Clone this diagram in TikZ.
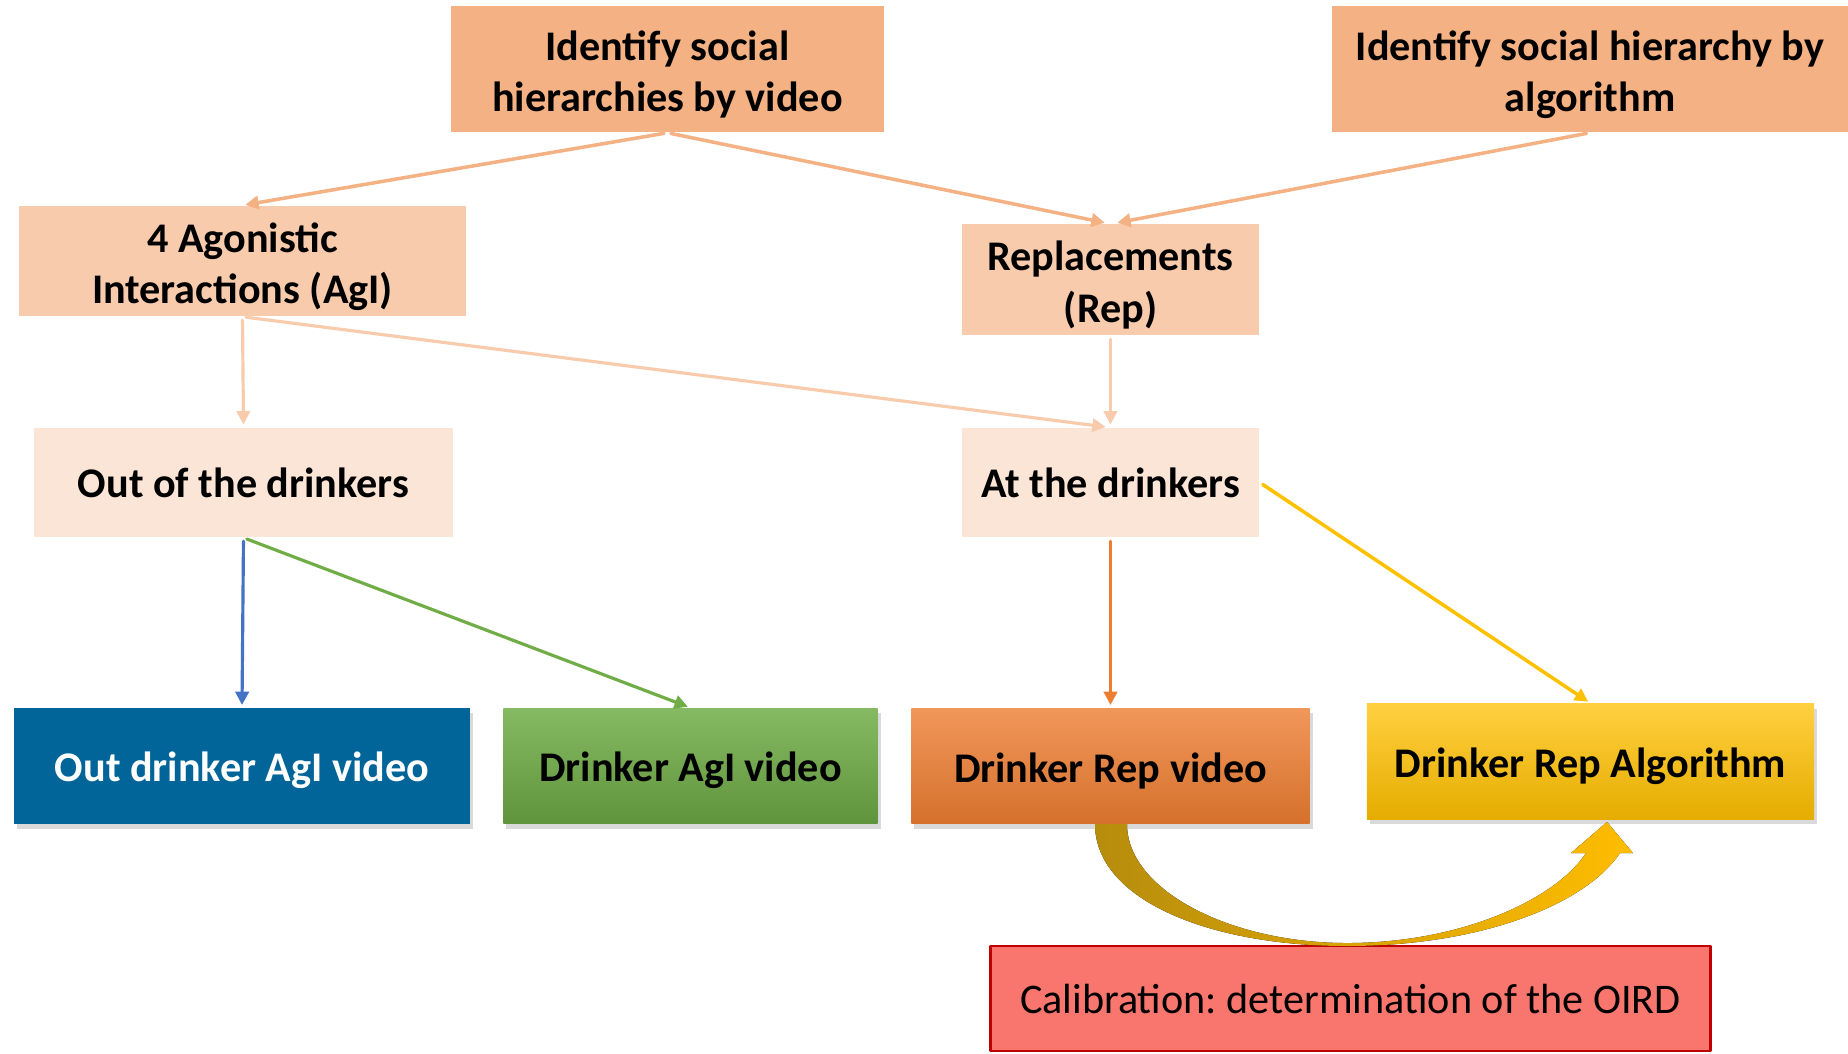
\documentclass[tikz,border=0pt]{standalone}
\usepackage{fontspec}
\setmainfont{Carlito}
\frenchspacing
\usetikzlibrary{arrows.meta,shadows}
\definecolor{topfill}{HTML}{F4B183}
\definecolor{midfill}{HTML}{F8CBAD}
\definecolor{lowfill}{HTML}{FBE5D6}
\definecolor{outblue}{HTML}{02659A}
\definecolor{arblue}{HTML}{4472C4}
\definecolor{argreen}{HTML}{70AD47}
\definecolor{arorange}{HTML}{ED7D31}
\definecolor{argold}{HTML}{FFC000}
\definecolor{calfill}{HTML}{F8766D}
\definecolor{calline}{HTML}{C00000}
\newcommand{\sinkline}{\rule{0pt}{11.6pt}}
\begin{document}
\begin{tikzpicture}[x=0.01cm,y=-0.01cm,line cap=round,line join=round,
    box/.style={rectangle,inner sep=0pt,align=center,
      font=\fontsize{12}{14.6}\selectfont\bfseries},
    sink/.style={execute at begin node={\rule{0pt}{#1}}},
    outbox/.style={box,sink=11pt,drop shadow={shadow xshift=0.03cm,shadow yshift=-0.05cm,opacity=0.3}},
    tip/.style={-{Triangle[length=3.8pt,width=3.8pt]},shorten <=1pt,shorten >=0.8pt}]
\useasboundingbox (0,0) rectangle (1848,1053);

\node[box,fill=topfill,minimum width=4.33cm,minimum height=1.26cm] (vid) at (667.5,69)
  {\sinkline Identify social\\hierarchies by video};
\node[box,fill=topfill,minimum width=5.16cm,minimum height=1.26cm] (alg) at (1590,69)
  {\sinkline Identify social hierarchy by\\algorithm};
\node[box,fill=midfill,minimum width=4.47cm,minimum height=1.10cm] (agi) at (242.5,261)
  {\sinkline 4 Agonistic\\Interactions (AgI)};
\node[box,fill=midfill,minimum width=2.97cm,minimum height=1.11cm] (rep) at (1110.5,279.5)
  {\sinkline Replacements\\(Rep)};
\node[box,fill=lowfill,minimum width=4.19cm,minimum height=1.09cm] (out) at (243.5,482.5)
  {Out of the drinkers};
\node[box,fill=lowfill,minimum width=2.97cm,minimum height=1.09cm] (at) at (1110.5,482.5)
  {At the drinkers};

\node[outbox,fill=outblue,text=white,minimum width=4.56cm,minimum height=1.15cm] (oav) at (242,766)
  {Out drinker AgI video};
\node[outbox,top color=argreen!85!white,bottom color=argreen!85!black,minimum width=3.74cm,minimum height=1.15cm] (dav) at (690.5,766)
  {Drinker AgI video};
\node[outbox,top color=arorange!80!white,bottom color=arorange!90!black,minimum width=3.98cm,minimum height=1.15cm] (drv) at (1110.5,766)
  {Drinker Rep video};
\node[outbox,top color=argold!75!white,bottom color=argold!90!black,minimum width=4.47cm,minimum height=1.15cm] (dra) at (1590.5,761.5)
  {Drinker Rep Algorithm};
\node[rectangle,fill=calfill,draw=calline,line width=0.8pt,minimum width=7.20cm,minimum height=1.05cm,
  font=\fontsize{12}{14.6}\selectfont] (cal) at (1350.5,998.5) {Calibration: determination of the OIRD};

\draw[tip,topfill,line width=1pt] (vid.south) -- (agi.north);
\draw[tip,topfill,line width=1pt] (vid.south) -- ([xshift=-0.03cm]rep.north);
\draw[tip,topfill,line width=1pt] (alg.south) -- ([xshift=0.04cm]rep.north);
\draw[tip,midfill,line width=0.9pt] (agi.south) -- (out.north);
\draw[tip,midfill,line width=0.9pt] (agi.south) -- ([xshift=-0.02cm]at.north);
\draw[tip,midfill,line width=0.9pt] (rep.south) -- (at.north);
\draw[tip,arblue,line width=0.9pt] (out.south) -- (oav.north);
\draw[tip,argreen,line width=0.9pt] (out.south) -- (dav.north);
\draw[tip,arorange,line width=0.9pt] (at.south) -- (drv.north);
\draw[tip,argold,line width=1pt] (at.east) -- (dra.north);

% calibration loop
\fill[left color=argold!70!black!95,right color=argold!95!orange]
  (1095,824) .. controls (1095,900) and (1210,946) .. (1347,946)
  .. controls (1480,946) and (1585,905) .. (1620,853)
  -- (1633,853) -- (1607,822) -- (1571,853) -- (1586,853)
  .. controls (1555,900) and (1460,943) .. (1347,943)
  .. controls (1230,943) and (1127,890) .. (1127,824) -- cycle;
\end{tikzpicture}
\end{document}
